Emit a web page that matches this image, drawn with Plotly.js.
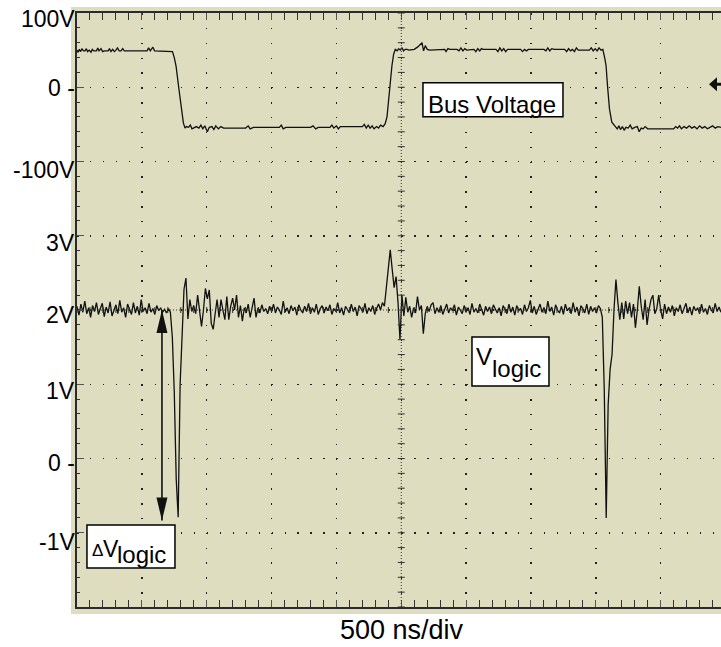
<!DOCTYPE html>
<html><head><meta charset="utf-8">
<script src="https://cdn.plot.ly/plotly-3.0.1.min.js"></script>
<style>html,body{margin:0;padding:0;background:#fff;overflow:hidden}</style>
</head><body><div id="chart" style="width:721px;height:647px"></div>
<script>
// Bus voltage trace (time in ns, volts)
const busT = [0,8,18,28,38,50,62,72,82,95,108,118,130,150,160,170,185,198,210,240,250,262,275,288,300,312,325,340,352,365,540,552,565,585,598,720,736,
750,764,784,803,820,833,843,860,874,886,898,920,940,955,970,985,1005,1020,1040,1055,1070,1090,1110,1130,1300,1320,1335,1360,1560,1575,1590,1610,1800,1820,1840,1860,1950,1965,1980,2000,2015,2030,2200,2215,2230,2245,2260,2275,2290,2310,2325,2340,2360,2376,
2390,2402,2415,2428,2441,2454,2468,2480,2492,2505,2518,2530,2545,2560,2600,2625,2660,2672,2685,2700,2720,2780,2835,2845,2860,2875,2930,2945,2960,2975,2990,3005,3060,3075,3090,3105,3118,3130,3230,3245,3260,3275,3290,3305,3320,3350,3420,3435,3450,3465,3480,3600,3615,3630,3645,3660,3680,3760,3775,3790,3805,3820,3835,3850,3865,3950,3965,3980,3995,4010,4025,4040,4054,
4068,4079,4090,4105,4123,4149,4165,4178,4190,4205,4218,4232,4250,4265,4280,4300,4320,4334,4350,4365,4380,4400,4600,4615,4630,4645,4660,4680,4700,4720,4740,4760,4780,4800,4820,4840,4860,4880,4900,4920,4940,4965];
const busV = [50,47,51,48,52,49,49,52,48,50,47,51,49,49,53,49,52,48,49,49,52,48,51,48,50,53,49,49,52,49,49,53,49,54,49,49,48,
40,28,0,-29,-48,-55,-53,-54,-51,-56,-55,-53,-55,-51,-56,-52,-60,-54,-53,-57,-52,-56,-53,-55,-55,-52,-56,-54,-54,-51,-56,-54,-54,-52,-56,-54,-54,-51,-55,-52,-56,-53,-53,-50,-55,-51,-55,-52,-56,-53,-55,-51,-53,-49,
-40,-16,7,29,44.5,51,49,52,50,53,49,51,51,50,51,54,60,49,56,51,50,51,51,48,52,51,51,49,53,49,52,50,51,48,52,49,52,51,51,48,53,49,52,48,51,51,51,48,51,49,51,51,49,53,49,52,51,51,48,52,49,51,48,53,50,50,53,49,52,49,53,50,51,
40,29,2,-29,-47,-53.5,-56,-52,-57,-53,-58,-54,-55,-51,-56,-54,-53,-60,-55,-56,-53,-56,-56,-53,-55,-52,-56,-53,-55,-52,-55,-53,-56,-52,-55,-53,-56,-54,-52,-55,-53,-54];

// Logic trace: sampled every 15 ns starting at 0 ns (volts)
const logicStart = 0;
const logicStep = 15;
const logicV = [
2.05,1.93,2.08,1.97,2.12,1.95,2.03,1.90,2.06,1.98,
2.10,1.94,2.02,2.09,1.91,2.04,1.96,2.11,1.92,2.00,
2.07,1.95,2.13,1.97,2.03,1.90,2.08,2.01,1.94,2.10,
1.96,2.05,1.93,2.14,1.98,2.03,1.95,2.09,1.97,2.02,
1.94,2.06,1.99,2.03,1.97,2.01,1.96,2.02,1.97,1.63,
0.89,-0.28,-0.79,1.00,1.65,2.28,2.43,1.88,2.14,1.98,
2.06,1.95,2.20,2.00,1.78,2.00,2.29,2.15,2.27,1.82,
1.74,1.95,2.14,1.90,2.14,2.00,1.87,2.18,1.87,2.05,
2.16,2.00,2.20,1.90,2.06,1.85,2.03,1.96,2.08,1.90,
2.05,2.16,1.90,2.03,1.96,2.07,1.98,2.02,1.95,2.05,
1.98,2.08,1.96,2.04,2.00,1.94,2.12,1.97,2.03,1.95,
2.06,1.99,2.04,1.93,2.07,2.00,1.96,2.05,1.98,2.09,
1.95,2.03,1.97,2.08,1.94,2.02,2.06,1.96,2.04,1.99,
2.07,1.94,2.02,1.98,2.10,1.96,2.03,1.93,2.05,2.00,
1.96,2.08,1.98,2.04,1.92,2.06,2.01,1.97,2.09,1.95,
2.03,1.98,2.06,1.94,2.02,2.08,2.00,2.10,2.05,2.28,
2.55,2.81,2.55,2.30,2.45,2.10,1.60,2.20,1.92,2.17,
1.97,2.05,1.90,2.03,1.96,2.18,2.00,2.06,1.68,1.95,
2.05,1.98,2.07,2.10,1.95,2.03,1.97,2.06,1.94,2.02,
2.08,1.96,2.03,1.99,2.07,1.93,2.04,2.00,1.95,2.06,
1.98,2.03,1.94,2.09,1.97,2.02,1.96,2.08,2.00,1.93,
2.05,1.98,2.04,1.95,2.07,2.01,1.96,2.03,1.92,2.06,
2.00,1.95,2.08,1.97,2.04,1.93,2.06,1.99,2.02,1.94,
2.07,1.98,2.03,2.13,1.96,2.05,1.94,2.02,2.08,1.97,
2.03,1.95,2.12,1.98,2.04,1.93,2.07,2.00,1.96,2.05,
1.94,2.08,1.99,2.03,1.95,2.10,1.97,2.04,1.92,2.06,
2.00,1.96,2.08,1.94,2.05,1.98,2.03,1.96,2.06,2.02,
1.90,0.93,-0.80,0.72,1.20,1.40,2.00,2.41,2.10,1.87,
2.10,1.88,2.12,1.95,2.10,1.90,2.08,1.76,2.00,2.32,
2.05,1.87,2.14,1.80,2.00,2.14,2.20,1.95,2.02,2.20,
2.00,1.88,2.08,1.95,2.04,1.97,2.06,1.92,2.03,1.98,
2.07,1.95,2.02,2.09,1.96,2.04,1.93,2.05,1.99,2.03,
1.95,2.08,1.97,2.02,1.94,2.06,2.00,1.96,2.09,1.98,
2.04,1.97];

// Axis label text
const busTickVals = [100, 0, -100];
const busTickText = ['100V', '0 -', '-100V'];
const busTickShift = [-6, -1, -8];
const logicTickVals = [3, 2, 1, 0, -1];
const logicTickText = ['3V', '2V', '1V', '0 -', '-1V'];
const logicTickShift = [-7, -5, -7, -4, -9];
const xTitle = '500 ns/div';

const FONT = 'Liberation Sans, Arial, Helvetica, sans-serif';
const BG = '#DEDDC0';
const INK = '#111';

const traces = [
  {type:'scatter', mode:'lines', x: busT, y: busV, yaxis:'y',
   line:{color:INK, width:1.3}, hoverinfo:'skip'},
  {type:'scatter', mode:'lines', x0: logicStart, dx: logicStep, y: logicV, yaxis:'y2',
   line:{color:INK, width:1.3}, hoverinfo:'skip'}
];

const annotations = [];
busTickVals.forEach((v,i)=>annotations.push({xref:'paper', x:0, xanchor:'right', yref:'y', y:v, yanchor:'middle',
  yshift: busTickShift[i], text: busTickText[i], showarrow:false, font:{family:FONT, size:23, color:'#000'}}));
logicTickVals.forEach((v,i)=>annotations.push({xref:'paper', x:0, xanchor:'right', yref:'y2', y:v, yanchor:'middle',
  yshift: logicTickShift[i], text: logicTickText[i], showarrow:false, font:{family:FONT, size:23, color:'#000'}}));
annotations.push({xref:'paper', x:0.504, yref:'paper', y:0, yanchor:'middle', yshift:-22.6, text:xTitle,
  showarrow:false, font:{family:FONT, size:27, color:'#000'}});

// label boxes
const busBox = {x:3207, y:-17};
const vBox = {x:3342, y:1.306};
const dBox = {x:416, y:-1.185};
annotations.push({xref:'x', x:busBox.x, yref:'y', y:busBox.y, xshift:-0.5, yshift:-4.4, text:'Bus Voltage',
  showarrow:false, font:{family:FONT, size:24, color:'#000'}});
annotations.push({xref:'x', x:vBox.x, yref:'y2', y:vBox.y, xshift:-26, yshift:4.8, text:'V',
  showarrow:false, font:{family:FONT, size:24, color:'#000'}});
annotations.push({xref:'x', x:vBox.x, yref:'y2', y:vBox.y, xshift:6.2, yshift:-6.9, text:'logic',
  showarrow:false, font:{family:FONT, size:24, color:'#000'}});
annotations.push({xref:'x', x:dBox.x, yref:'y2', y:dBox.y, xshift:-33.5, yshift:-4.0, text:'\u0394',
  showarrow:false, font:{family:FONT, size:17, color:'#000'}});
annotations.push({xref:'x', x:dBox.x, yref:'y2', y:dBox.y, xshift:-20.2, yshift:-2.6, text:'V',
  showarrow:false, font:{family:FONT, size:23, color:'#000'}});
annotations.push({xref:'x', x:dBox.x, yref:'y2', y:dBox.y, xshift:11, yshift:-8.5, text:'logic',
  showarrow:false, font:{family:FONT, size:24, color:'#000'}});

const shapes = [];
// beige screen background
shapes.push({type:'rect', layer:'below', xref:'paper', xsizemode:'pixel', xanchor:0, x0:-6, x1:700,
  yref:'paper', ysizemode:'pixel', yanchor:0, y0:-7, y1:600, fillcolor:BG, line:{width:0}});
// center crosshair
shapes.push({type:'line', xref:'x', x0:2500, x1:2500, yref:'paper', y0:0, y1:1, line:{color:'#333', width:1, dash:'1px,2px'}});
shapes.push({type:'line', xref:'paper', x0:0, x1:1, yref:'y2', y0:2, y1:2, line:{color:'#333', width:1, dash:'1px,2px'}});
for (let k = 0; k <= 40; k++) {
  const v = -2 + k*0.2;
  shapes.push({type:'line', xref:'x', xsizemode:'pixel', xanchor:2500, x0:-3.5, x1:3.5, yref:'y2', y0:v, y1:v,
    line:{color:'#333', width:1}});
}
for (let k = 0; k <= 49; k++) {
  const t = k*100;
  shapes.push({type:'line', xref:'x', x0:t, x1:t, yref:'y2', ysizemode:'pixel', yanchor:2, y0:-3, y1:3,
    line:{color:'#333', width:1}});
}
// boxes
function box(ref, c, hw, hh) {
  shapes.push({type:'rect', xref:'x', xsizemode:'pixel', xanchor:c.x, x0:-hw, x1:hw,
    yref:ref, ysizemode:'pixel', yanchor:c.y, y0:-hh, y1:hh, fillcolor:'#fff', line:{color:'#000', width:1.5}});
}
box('y', busBox, 70, 17);
box('y2', vBox, 38.5, 24.5);
box('y2', dBox, 44, 21.5);
// delta arrow
const arrowX = 655, arrowTop = 2, arrowBot = -0.835;
shapes.push({type:'line', xref:'x', x0:arrowX, x1:arrowX, yref:'y2', y0:arrowTop, y1:arrowBot, line:{color:INK, width:1.6}});
shapes.push({type:'path', xref:'x', xsizemode:'pixel', xanchor:arrowX, yref:'y2', ysizemode:'pixel', yanchor:arrowTop,
  path:'M0,0 L-5.5,-23 L5.5,-23 Z', fillcolor:INK, line:{width:0}});
shapes.push({type:'path', xref:'x', xsizemode:'pixel', xanchor:arrowX, yref:'y2', ysizemode:'pixel', yanchor:arrowBot,
  path:'M0,0 L-5.5,23 L5.5,23 Z', fillcolor:INK, line:{width:0}});
// right edge marker
shapes.push({type:'path', xref:'paper', xsizemode:'pixel', xanchor:1, yref:'y', ysizemode:'pixel', yanchor:0,
  path:'M-12,3 L-4,10 L-4,-4 Z M-4,1.5 L0,1.5 L0,4.5 L-4,4.5 Z', fillcolor:INK, line:{width:0}});

const layout = {
  width:721, height:647,
  margin:{l:77, r:0, t:13, b:40, pad:0},
  paper_bgcolor:'#fff', plot_bgcolor:BG,
  showlegend:false,
  font:{family:FONT, color:'#000'},
  xaxis:{range:[0,4965], tickmode:'linear', tick0:0, dtick:500, showticklabels:false,
    showgrid:true, gridcolor:'#222', gridwidth:1.5, griddash:'1.5px,13.35px', zeroline:false,
    showline:true, mirror:'allticks', linecolor:'#2b2b2b', linewidth:2,
    ticks:'inside', ticklen:7, tickwidth:1, tickcolor:'#555',
    minor:{dtick:100, ticks:'inside', ticklen:3, tickwidth:1, tickcolor:'#333', showgrid:false}},
  yaxis:{range:[-700,100], tickmode:'linear', tick0:100, dtick:100, showticklabels:false,
    showgrid:true, gridcolor:'#222', gridwidth:1.5, griddash:'1.5px,11.47px', zeroline:false,
    showline:true, mirror:false, linecolor:'#2b2b2b', linewidth:2,
    ticks:'inside', ticklen:7, tickwidth:1, tickcolor:'#555',
    minor:{dtick:20, ticks:'inside', ticklen:3, tickwidth:1, tickcolor:'#333', showgrid:false}},
  yaxis2:{range:[-2,6], overlaying:'y', side:'left', showgrid:false, showticklabels:false,
    zeroline:false, showline:false, ticks:''},
  annotations: annotations,
  shapes: shapes
};

Plotly.newPlot('chart', traces, layout, {staticPlot:true, displayModeBar:false});
</script>
</body></html>
